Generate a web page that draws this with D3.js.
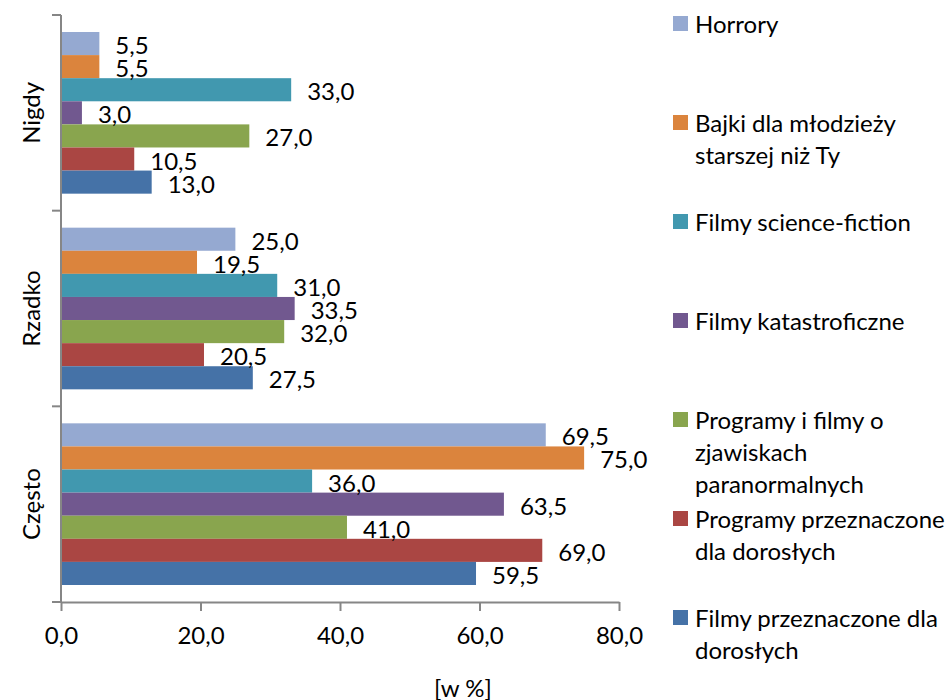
<!DOCTYPE html>
<html>
<head>
<meta charset="utf-8">
<script src="https://cdn.jsdelivr.net/npm/d3@7"></script>
<style>
  body { margin: 0; background: #fff; }
  svg { font-family: Lato, "Open Sans", sans-serif; }
</style>
</head>
<body>
<svg id="chart" width="952" height="700"></svg>
<script>
const categories = ["Nigdy", "Rzadko", "Często"];
const seriesNames = [
  "Horrory",
  "Bajki dla młodzieży starszej niż Ty",
  "Filmy science-fiction",
  "Filmy katastroficzne",
  "Programy i filmy o zjawiskach paranormalnych",
  "Programy przeznaczone dla dorosłych",
  "Filmy przeznaczone dla dorosłych"
];
const legendLines = [
  ["Horrory"],
  ["Bajki dla młodzieży", "starszej niż Ty"],
  ["Filmy science-fiction"],
  ["Filmy katastroficzne"],
  ["Programy i filmy o", "zjawiskach", "paranormalnych"],
  ["Programy przeznaczone", "dla dorosłych"],
  ["Filmy przeznaczone dla", "dorosłych"]
];
const colors = ["#95A9D1", "#DB843D", "#4198AF", "#71588F", "#89A54E", "#AA4643", "#4572A7"];
// values[series][category]
const horrory = [5.5, 25.0, 69.5];
const bajki = [5.5, 19.5, 75.0];
const scifi = [33.0, 31.0, 36.0];
const katastroficzne = [3.0, 33.5, 63.5];
const paranormalne = [27.0, 32.0, 41.0];
const programyDorosli = [10.5, 20.5, 69.0];
const filmyDorosli = [13.0, 27.5, 59.5];
const seriesValues = [horrory, bajki, scifi, katastroficzne, paranormalne, programyDorosli, filmyDorosli];
const xTicks = [0, 20, 40, 60, 80];
const axisTitle = "[w %]";

const locale = d3.formatLocale({decimal: ",", thousands: " ", grouping: [3], currency: ["", " zł"]});
const fmt = locale.format(".1f");

const svg = d3.select("#chart");
const axisColor = "#868686";
const fontSize = 24;

const x = d3.scaleLinear().domain([0, 80]).range([61, 619]);
const y0 = d3.scaleBand().domain(categories).range([15, 602]).padding(0);
const y1 = d3.scaleBand().domain(seriesNames.map((d, i) => i)).range([17, y0.bandwidth() - 17]).padding(0);

const data = [];
categories.forEach((c, ci) => {
  seriesValues.forEach((vals, si) => {
    data.push({cat: c, s: si, v: vals[ci]});
  });
});

// bars
svg.append("g").selectAll("rect").data(data).join("rect")
  .attr("x", x(0))
  .attr("y", d => y0(d.cat) + y1(d.s))
  .attr("width", d => x(d.v) - x(0))
  .attr("height", y1.bandwidth())
  .attr("fill", d => colors[d.s]);

// labels
svg.append("g").selectAll("text").data(data).join("text")
  .attr("x", d => x(d.v) + 16)
  .attr("y", d => y0(d.cat) + y1(d.s) + y1.bandwidth() / 2 + 1)
  .attr("dominant-baseline", "central")
  .attr("font-size", fontSize)
  .attr("fill", "#000")
  .text(d => fmt(d.v));

// x axis
const xAxis = d3.axisBottom(x).tickValues(xTicks).tickFormat(fmt).tickSize(9).tickSizeOuter(0);
const gx = svg.append("g").attr("transform", `translate(0,${y0.range()[1]})`).call(xAxis);
gx.select(".domain").attr("stroke", axisColor).attr("stroke-width", 2);
gx.selectAll(".tick line").attr("stroke", axisColor).attr("stroke-width", 2);
gx.selectAll(".tick text").attr("font-size", fontSize).attr("fill", "#000").attr("dy", "1.25em").attr("font-family", "Lato, 'Open Sans', sans-serif");

// y axis line and boundary ticks
const gy = svg.append("g");
gy.append("line")
  .attr("x1", x(0)).attr("x2", x(0))
  .attr("y1", y0.range()[0]).attr("y2", y0.range()[1])
  .attr("stroke", axisColor).attr("stroke-width", 2);
const bounds = categories.map(c => y0(c)).concat([y0.range()[1]]);
gy.selectAll("line.tk").data(bounds).join("line").attr("class", "tk")
  .attr("x1", x(0) - 9).attr("x2", x(0))
  .attr("y1", d => d).attr("y2", d => d)
  .attr("stroke", axisColor).attr("stroke-width", 2);
gy.selectAll("text").data(categories).join("text")
  .attr("transform", d => `translate(30,${y0(d) + y0.bandwidth() / 2}) rotate(-90)`)
  .attr("text-anchor", "middle")
  .attr("dominant-baseline", "central")
  .attr("font-size", fontSize)
  .text(d => d);

// axis title
svg.append("text")
  .attr("x", 463).attr("y", 687)
  .attr("text-anchor", "middle")
  .attr("dominant-baseline", "central")
  .attr("font-size", fontSize)
  .text(axisTitle);

// legend
const lg = svg.append("g");
legendLines.forEach((lines, i) => {
  const cy = 23 + i * 99;
  lg.append("rect").attr("x", 673).attr("y", cy - 7).attr("width", 15).attr("height", 15).attr("fill", colors[i]);
  lines.forEach((t, j) => {
    lg.append("text")
      .attr("x", 695).attr("y", cy + j * 32)
      .attr("dominant-baseline", "central")
      .attr("font-size", fontSize)
      .text(t);
  });
});
</script>
</body>
</html>
